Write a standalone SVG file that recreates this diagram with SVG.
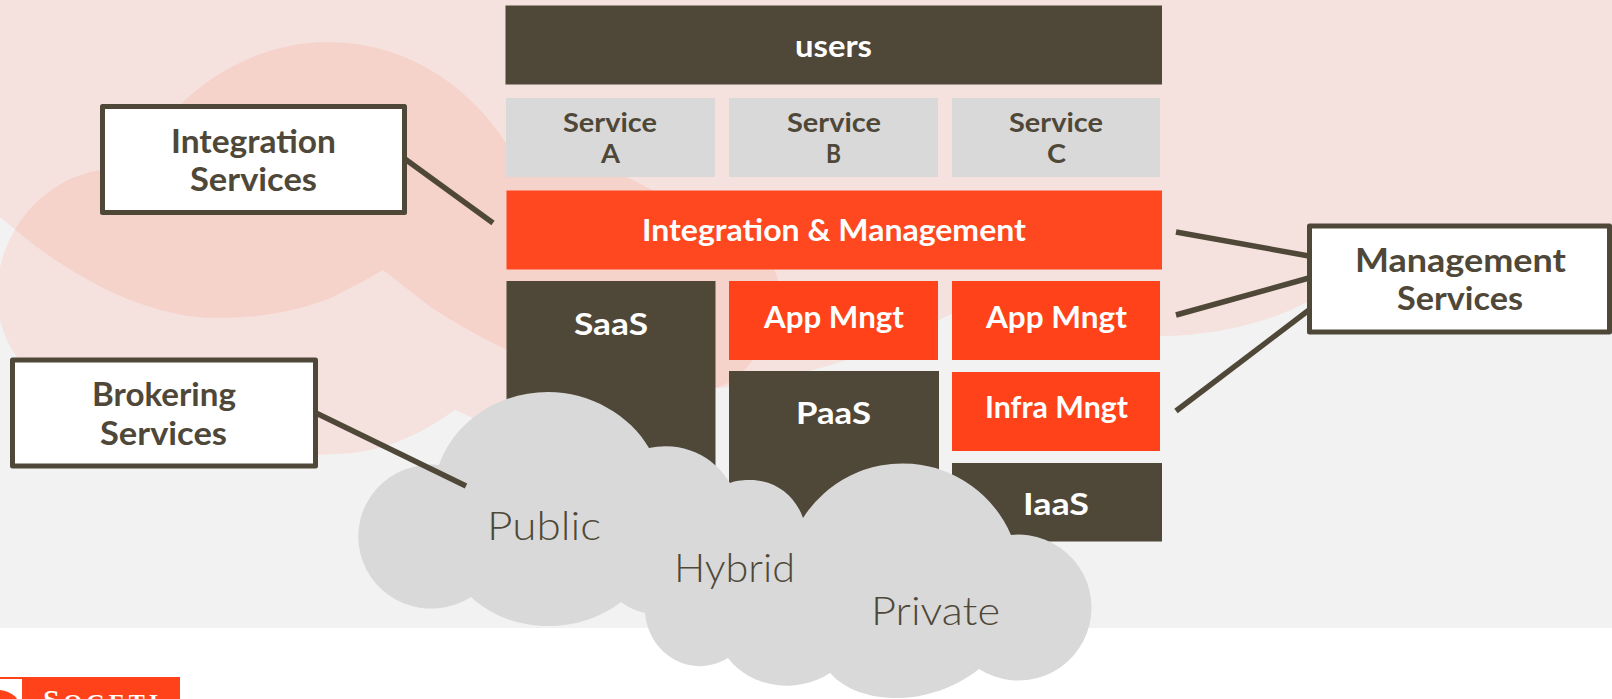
<svg xmlns="http://www.w3.org/2000/svg" width="1612" height="699" viewBox="0 0 1612 699">
<defs>
<clipPath id="clipA"><path d="M0 0H1612V260L1307 302C1270 322 1215 336 1160 336C1090 336 1040 320 1000 292L945 317C890 345 830 372 760 380C745 384 730 388 715 388C640 388 570 382 507 350C480 337 455 323 432 308L383 270C370 278 350 288 333 297C295 312 260 318 217 318C140 318 60 270 0 217Z"/></clipPath>
</defs>
<style>
.t{font-family:"Lato","Open Sans","Liberation Sans",sans-serif;font-weight:700}
.w{fill:#fff;font-size:30px}
.d{fill:#4f4838;font-size:32px}
.s{fill:#4f4838;font-size:26.500px}
.l{font-family:"Lato","Liberation Sans",sans-serif;font-weight:300;fill:#4f4838;font-size:40px}
.dk{fill:#4f4838}.or{fill:#ff4219}.gr{fill:#d9d9d9}
.box{fill:#fff;stroke:#4f4838;stroke-width:5;stroke-linejoin:round}
.con{stroke:#4f4838;stroke-width:5.500;fill:none}
</style>
<g id="background">
<rect width="1612" height="699" fill="#fff"/>
<rect width="1612" height="628" fill="#f2f2f2"/>
<path id="bgA" fill="#f5e1de" d="M0 0H1612V260L1307 302C1270 322 1215 336 1160 336C1090 336 1040 320 1000 292L945 317C890 345 830 372 760 380C745 384 730 388 715 388C640 388 570 382 507 350C480 337 455 323 432 308L383 270C370 278 350 288 333 297C295 312 260 318 217 318C140 318 60 270 0 217Z"/>
<path id="bgB" fill="#f5e1de" d="M-3 295C-3 235 40 180 100 170C120 135 150 115 180 105C220 65 275 42 328 42C400 42 465 80 506 143L525 172C560 165 600 165 627 177C700 215 777 250 778 282C778 320 760 350 753 360C742 375 728 385 715 388L600 420L473 418L455 410C420 435 380 454 333 454C150 470 -3 400 -3 295Z"/>
<path id="bgOverlap" fill="#f5d3cb" clip-path="url(#clipA)" d="M-3 295C-3 235 40 180 100 170C120 135 150 115 180 105C220 65 275 42 328 42C400 42 465 80 506 143L525 172C560 165 600 165 627 177C700 215 777 250 778 282C778 320 760 350 753 360C742 375 728 385 715 388L600 420L473 418L455 410C420 435 380 454 333 454C150 470 -3 400 -3 295Z"/>
</g>
<g id="users"><rect class="dk" x="505.500" y="5.500" width="656.500" height="79"/><text class="t w" x="795" y="57" textLength="77" lengthAdjust="spacingAndGlyphs">users</text></g>
<g id="service-a"><rect class="gr" x="506" y="98" width="209" height="79"/><text class="t s" x="563" y="132" textLength="94" lengthAdjust="spacingAndGlyphs">Service</text><text class="t s" x="601" y="163" textLength="19" lengthAdjust="spacingAndGlyphs">A</text></g>
<g id="service-b"><rect class="gr" x="729" y="98" width="209" height="79"/><text class="t s" x="787" y="132" textLength="94" lengthAdjust="spacingAndGlyphs">Service</text><text class="t s" x="826" y="163" textLength="15" lengthAdjust="spacingAndGlyphs">B</text></g>
<g id="service-c"><rect class="gr" x="952" y="98" width="208" height="79"/><text class="t s" x="1009" y="132" textLength="94" lengthAdjust="spacingAndGlyphs">Service</text><text class="t s" x="1047" y="163" textLength="19" lengthAdjust="spacingAndGlyphs">C</text></g>
<g id="integration-management"><rect x="506.500" y="190.500" width="655.500" height="79" fill="#ff481f"/><text class="t w" x="642" y="241" textLength="384" lengthAdjust="spacingAndGlyphs">Integration &amp; Management</text></g>
<g id="saas"><rect class="dk" x="506.500" y="281" width="209" height="220"/><text class="t w" x="574" y="335" textLength="74" lengthAdjust="spacingAndGlyphs">SaaS</text></g>
<g id="app-mngt-1"><rect class="or" x="729" y="281" width="209" height="79"/><text class="t w" x="764" y="328" textLength="140" lengthAdjust="spacingAndGlyphs">App Mngt</text></g>
<g id="app-mngt-2"><rect class="or" x="952" y="281" width="208" height="79"/><text class="t w" x="986" y="328" textLength="141" lengthAdjust="spacingAndGlyphs">App Mngt</text></g>
<g id="paas"><rect class="dk" x="729" y="371" width="210" height="150"/><text class="t w" x="796" y="424" textLength="75" lengthAdjust="spacingAndGlyphs">PaaS</text></g>
<g id="infra-mngt"><rect class="or" x="952" y="372" width="208" height="79"/><text class="t w" x="985" y="418" textLength="143" lengthAdjust="spacingAndGlyphs">Infra Mngt</text></g>
<g id="iaas"><rect class="dk" x="952" y="463" width="210" height="78.500"/><text class="t w" x="1023" y="515" textLength="66" lengthAdjust="spacingAndGlyphs">IaaS</text></g>
<g id="clouds">
<path class="gr" d="M439 465C455 420 500 392 548 392C590 392 630 415 649 448A75 75 0 0 1 730 483C737 480 745 480 750 480C775 480 795 495 803 518A118 118 0 0 1 1011 535A73 73 0 1 1 979 669C955 688 925 698 897 698C870 698 845 690 830 673A70 60 0 0 1 728 658A55 58 0 0 1 645 613A60 60 0 0 1 621 602C600 618 575 626 548 626C518 626 490 615 471 597A73 72 0 1 1 439 465Z"/>
</g>
<g id="connectors">
<line class="con" x1="405" y1="159" x2="493" y2="223"/>
<line class="con" x1="316" y1="413" x2="466" y2="486"/>
<line class="con" x1="1176" y1="232" x2="1309" y2="256"/>
<line class="con" x1="1176" y1="315" x2="1309" y2="278"/>
<line class="con" x1="1176" y1="411" x2="1309" y2="310"/>
</g>
<g id="integration-services"><rect class="box" x="102.500" y="106.500" width="302" height="106"/><text class="t d" x="171" y="153" textLength="165" lengthAdjust="spacingAndGlyphs">Integration</text><text class="t d" x="190" y="191" textLength="127" lengthAdjust="spacingAndGlyphs">Services</text></g>
<g id="brokering-services"><rect class="box" x="12.500" y="360" width="303" height="106"/><text class="t d" x="92" y="406" textLength="144" lengthAdjust="spacingAndGlyphs">Brokering</text><text class="t d" x="100" y="445" textLength="127" lengthAdjust="spacingAndGlyphs">Services</text></g>
<g id="management-services"><rect class="box" x="1309.500" y="226" width="300" height="106"/><text class="t d" x="1355" y="272" textLength="211" lengthAdjust="spacingAndGlyphs">Management</text><text class="t d" x="1397" y="310" textLength="126" lengthAdjust="spacingAndGlyphs">Services</text></g>
<g id="public"><text class="l" x="487" y="540" textLength="114" lengthAdjust="spacingAndGlyphs">Public</text></g>
<g id="hybrid"><text class="l" x="674" y="582" textLength="121" lengthAdjust="spacingAndGlyphs">Hybrid</text></g>
<g id="private"><text class="l" x="871" y="625" textLength="129" lengthAdjust="spacingAndGlyphs">Private</text></g>
<g id="logo">
<rect class="or" x="0" y="677" width="180" height="22"/>
<rect x="0" y="679" width="22" height="20" fill="#fff"/>
<path class="or" d="M0 690C8 691 15 695 17 699H0Z"/>
<text x="43" y="710" fill="#fff" font-family="Liberation Serif,serif" font-weight="700" font-size="30" textLength="115" lengthAdjust="spacing">S<tspan font-size="24">OGETI</tspan></text>
</g>
</svg>
